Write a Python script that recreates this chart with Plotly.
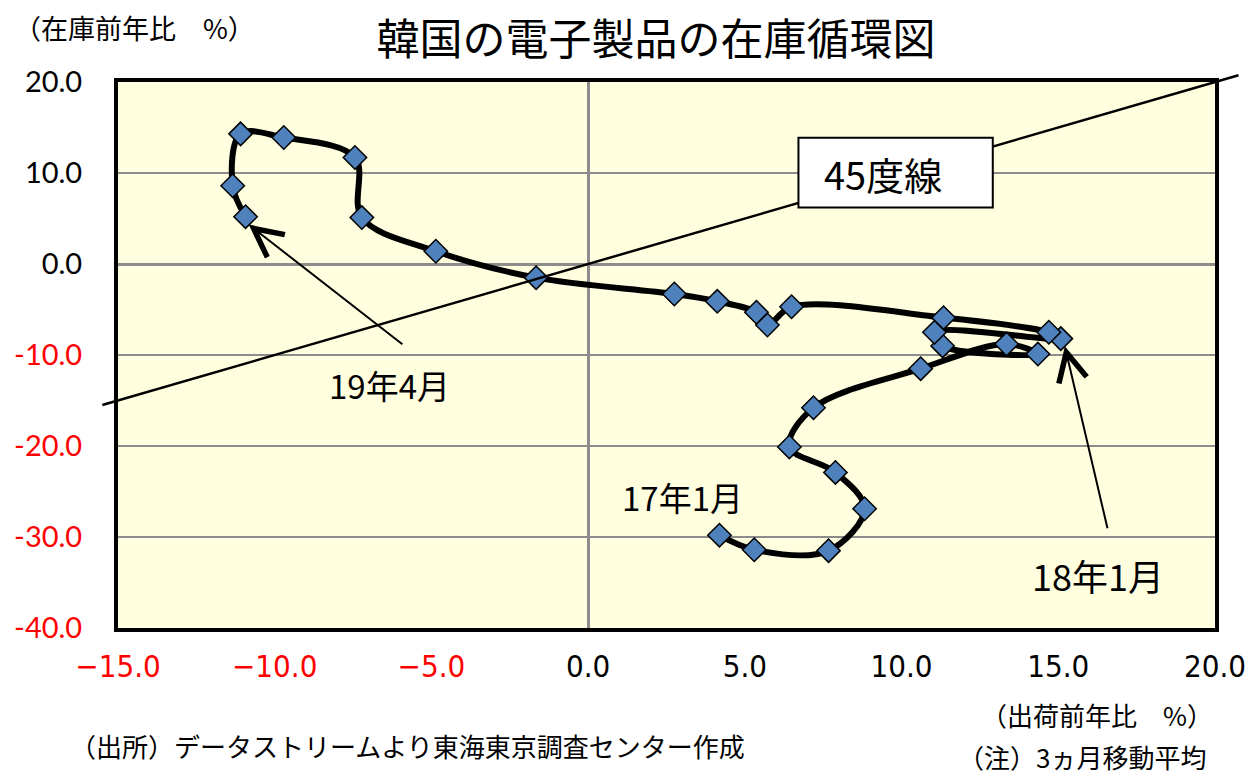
import plotly.graph_objects as go

# Monthly 3-month moving averages, Jan 2017 - Apr 2019
months = [
    "2017-01", "2017-02", "2017-03", "2017-04", "2017-05", "2017-06", "2017-07",
    "2017-08", "2017-09", "2017-10", "2017-11", "2017-12",
    "2018-01", "2018-02", "2018-03", "2018-04", "2018-05", "2018-06", "2018-07",
    "2018-08", "2018-09", "2018-10", "2018-11", "2018-12",
    "2019-01", "2019-02", "2019-03", "2019-04",
]
# shipments, % y/y
shipments = [
    4.19, 5.30, 7.67, 8.82, 7.89, 6.42, 7.19,
    10.61, 13.35, 14.35, 11.31, 11.05,
    15.08, 14.70, 11.34, 6.49, 5.72, 5.37, 4.12,
    2.75, -1.66, -4.86, -7.22, -7.44,
    -9.71, -11.09, -11.34, -10.93,
]
# inventories, % y/y
inventories = [
    -29.8, -31.4, -31.5, -26.9, -22.9, -20.1, -15.8,
    -11.5, -8.8, -9.9, -9.0, -7.5,
    -8.2, -7.5, -5.9, -4.7, -6.7, -5.3, -4.1,
    -3.3, -1.5, 1.4, 5.1, 11.7,
    13.9, 14.3, 8.6, 5.2,
]

x_ticks = [-15, -10, -5, 0, 5, 10, 15, 20]
x_tick_text = ["−15.0", "−10.0", "−5.0", "0.0", "5.0", "10.0", "15.0", "20.0"]
y_ticks = [20, 10, 0, -10, -20, -30, -40]
y_tick_text = ["20.0", "10.0", "0.0", "-10.0", "-20.0", "-30.0", "-40.0"]

X_RANGE = [-15, 20]
Y_RANGE = [-40, 20]

RED = "#FF0000"
JP = "Noto Sans CJK JP, Noto Sans, sans-serif"


def colored(vals, texts):
    out = []
    for v, t in zip(vals, texts):
        out.append(f'<span style="color:{RED}">{t}</span>' if v < 0 else t)
    return out


def to_paper(x, y):
    px = (x - X_RANGE[0]) / (X_RANGE[1] - X_RANGE[0])
    py = (y - Y_RANGE[0]) / (Y_RANGE[1] - Y_RANGE[0])
    return px, py


fig = go.Figure()

fig.add_trace(go.Scatter(
    x=shipments, y=inventories, text=months,
    mode="lines+markers",
    line=dict(color="black", width=6, shape="spline", smoothing=1.0),
    marker=dict(symbol="diamond", size=18, color="#4F81BD",
                line=dict(color="black", width=1.5)),
    hoverinfo="text+x+y",
    showlegend=False,
))

# 45-degree reference line (slightly overhanging the plot frame)
lx0, ly0 = to_paper(-15.5, -15.5)
lx1, ly1 = to_paper(20.75, 20.75)
fig.add_shape(type="line", xref="paper", yref="paper",
              x0=lx0, y0=ly0, x1=lx1, y1=ly1,
              line=dict(color="black", width=2.5), layer="above")

# label box for the 45-degree line
fig.add_shape(type="rect", xref="x", yref="y",
              x0=6.71, x1=12.91, y0=6.2, y1=13.87,
              fillcolor="white", line=dict(color="black", width=2), layer="above")

annotations = [
    dict(x=7.45, y=9.9, xref="x", yref="y", text="45度線", showarrow=False,
         xanchor="left", yanchor="middle", font=dict(size=38, family=JP, color="black")),
    dict(x=3.0, y=-25.6, xref="x", yref="y", text="17年1月", showarrow=False,
         font=dict(size=33, family=JP, color="black")),
    dict(x=-6.33, y=-13.3, xref="x", yref="y", text="19年4月", showarrow=False,
         font=dict(size=33, family=JP, color="black")),
    dict(x=16.26, y=-34.2, xref="x", yref="y", text="18年1月", showarrow=False,
         font=dict(size=36, family=JP, color="black")),
    # arrows
    dict(x=-10.83, y=4.33, xref="x", yref="y", ax=-5.88, ay=-8.94,
         axref="x", ayref="y", text="", showarrow=True, arrowhead=5,
         arrowsize=2.8, arrowwidth=2, arrowcolor="black", standoff=0),
    dict(x=15.21, y=-9.05, xref="x", yref="y", ax=16.58, ay=-29.2,
         axref="x", ayref="y", text="", showarrow=True, arrowhead=5,
         arrowsize=2.8, arrowwidth=2, arrowcolor="black", standoff=0),
    # axis titles and notes
    dict(x=-0.097, y=1.099, xref="paper", yref="paper", text="（在庫前年比　%）",
         showarrow=False, xanchor="left", yanchor="middle",
         font=dict(size=27, family=JP, color="black")),
    dict(x=1.0, y=-0.159, xref="paper", yref="paper", text="（出荷前年比　%）",
         showarrow=False, xanchor="right", yanchor="middle",
         font=dict(size=26, family=JP, color="black")),
    dict(x=0.994, y=-0.236, xref="paper", yref="paper", text="（注）3ヵ月移動平均",
         showarrow=False, xanchor="right", yanchor="middle",
         font=dict(size=26, family=JP, color="black")),
    dict(x=-0.046, y=-0.2143, xref="paper", yref="paper",
         text="（出所）データストリームより東海東京調査センター作成",
         showarrow=False, xanchor="left", yanchor="middle",
         font=dict(size=26, family=JP, color="black")),
]

fig.update_layout(
    width=1247, height=774,
    margin=dict(l=118, r=32, t=82, b=146, autoexpand=False),
    paper_bgcolor="white",
    plot_bgcolor="#FFFFE0",
    title=dict(text="韓国の電子製品の在庫循環図", xref="container", yref="container",
               x=656 / 1247, y=1 - 40 / 774, xanchor="center", yanchor="middle",
               font=dict(size=43, family=JP, color="black")),
    annotations=annotations,
    xaxis=dict(
        range=X_RANGE, tickvals=x_ticks, ticktext=colored(x_ticks, x_tick_text),
        showgrid=False, zeroline=True, zerolinecolor="#8C8C8C", zerolinewidth=3,
        showline=True, linecolor="black", linewidth=4, mirror=True,
        ticks="", ticklabelstandoff=8, ticklabeloverflow="allow", automargin=False,
        tickfont=dict(size=31, color="black",
                      family="Liberation Sans Narrow, DejaVu Sans Condensed, Roboto, sans-serif"),
        fixedrange=True,
    ),
    yaxis=dict(
        range=Y_RANGE, tickvals=y_ticks, ticktext=colored(y_ticks, y_tick_text),
        showgrid=True, gridcolor="#8C8C8C", gridwidth=2,
        zeroline=True, zerolinecolor="#8C8C8C", zerolinewidth=3,
        showline=True, linecolor="black", linewidth=4, mirror=True,
        ticks="", ticklabelstandoff=26, automargin=False,
        tickfont=dict(size=29, color="black", family="Lato, Open Sans, sans-serif"),
        fixedrange=True,
    ),
)

fig.write_html("out.html")
